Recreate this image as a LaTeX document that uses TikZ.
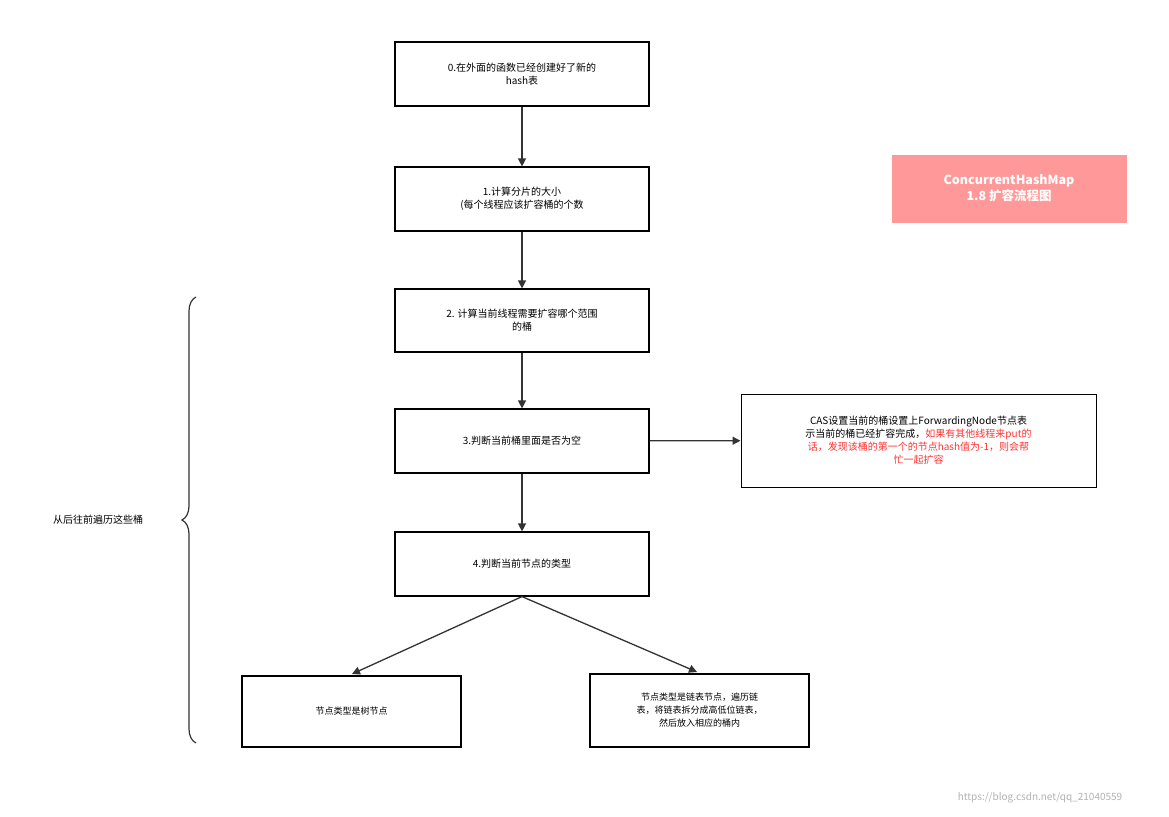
\documentclass[tikz,border=0pt]{standalone}
\usepackage{fontspec}
\setmainfont{Noto Sans CJK SC}
\usetikzlibrary{arrows.meta,decorations.pathreplacing}
\definecolor{ln}{HTML}{333333}
\definecolor{rd}{HTML}{FF3333}
\definecolor{ttl}{HTML}{FF9999}
\begin{document}
\begin{tikzpicture}[x=1pt,y=-1pt,
 box/.style={draw=black,line width=1.2pt,align=center,font=\fontsize{10}{13}\selectfont,inner sep=2pt},
 arr/.style={draw=ln,line width=1.3pt,-{Triangle[length=8pt,width=8pt]}}]
\useasboundingbox[fill=white] (0,0) rectangle (1169,816);
\node[box,minimum width=254pt,minimum height=64pt] (b0) at (522,74) {0.在外面的函数已经创建好了新的\\hash表};
\node[box,minimum width=254pt,minimum height=64pt] (b1) at (522,199) {1.计算分片的大小\\(每个线程应该扩容桶的个数};
\node[box,minimum width=254pt,minimum height=63pt] (b2) at (522,320.5) {2. 计算当前线程需要扩容哪个范围\\的桶};
\node[box,minimum width=254pt,minimum height=64pt] (b3) at (522,441) {3.判断当前桶里面是否为空};
\node[box,minimum width=254pt,minimum height=64pt] (b4) at (522,564) {4.判断当前节点的类型};
\node[box,minimum width=355pt,minimum height=93pt,line width=1pt] (r) at (918.5,440.5) {CAS设置当前的桶设置上ForwardingNode节点表\\示当前的桶已经扩容完成，\textcolor{rd}{如果有其他线程来put的}\\\textcolor{rd}{话，发现该桶的第一个的节点hash值为-1，则会帮}\\\textcolor{rd}{忙一起扩容}};
\node[draw=white,fill=ttl,minimum width=236pt,minimum height=69pt,align=center,text=white,font=\fontsize{12.5}{16}\selectfont\bfseries] (t) at (1009,188.5) {ConcurrentHashMap\\1.8 扩容流程图};
\node[box,minimum width=219pt,minimum height=71pt,font=\fontsize{9}{12}\selectfont] (tr) at (351.5,711.5) {节点类型是树节点};
\node[box,minimum width=219pt,minimum height=73pt,font=\fontsize{9}{13}\selectfont] (ls) at (699.5,710.5) {节点类型是链表节点，遍历链\\表，将链表拆分成高低位链表，\\然后放入相应的桶内};
\draw[arr] (b0) -- (b1);
\draw[arr] (b1) -- (b2);
\draw[arr] (b2) -- (b3);
\draw[arr] (b3) -- (b4);
\draw[arr] (b3) -- (r);
\draw[arr] (b4.south) -- (352,674);
\draw[arr] (b4.south) -- (697,672);
\coordinate (bt) at (196,297); \coordinate (bb) at (196,743);
\draw[ln,line width=1.2pt,decorate,decoration={brace,amplitude=14pt}] (bb) -- (bt);
\node[font=\fontsize{10}{13}\selectfont] (bl) at (98,520) {从后往前遍历这些桶};
\node[text=gray!60,font=\fontsize{10}{12}\selectfont] (wm) at (1040,798) {https://blog.csdn.net/qq\_21040559};
\end{tikzpicture}
\end{document}
